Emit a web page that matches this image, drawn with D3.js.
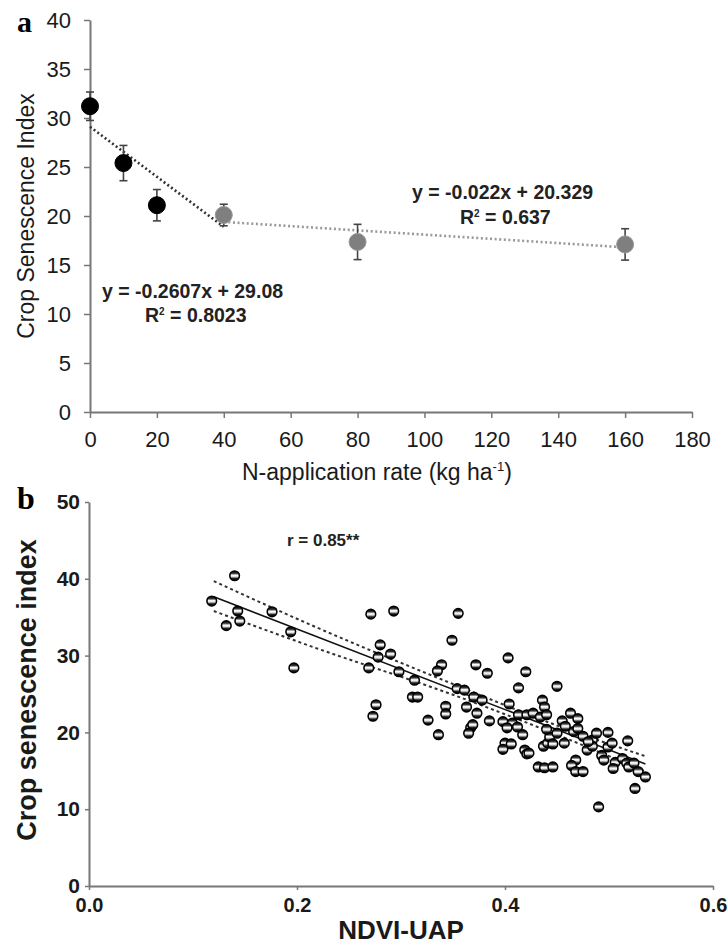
<!DOCTYPE html>
<html>
<head>
<meta charset="utf-8">
<script src="https://cdn.jsdelivr.net/npm/d3@7"></script>
<style>
  body { margin: 0; background: #fff; }
  svg { display: block; }
  text { font-family: "Liberation Sans", Arial, sans-serif; }
</style>
</head>
<body>
<div id="chart"></div>
<script>
// ---- panel a data ----
var nRate = [0, 10, 20, 40, 80, 160];
var csiMean = [31.2, 25.4, 21.1, 20.1, 17.35, 17.1];
var csiErr = [1.45, 1.8, 1.6, 1.1, 1.8, 1.6];
var markerGroup = ["low", "low", "low", "high", "high", "high"];
var trend1X = [0, 40], trend1Y = [29.1, 18.9];
var trend2X = [40, 160], trend2Y = [19.4, 16.8];
var xTicksA = [0, 20, 40, 60, 80, 100, 120, 140, 160, 180];
var yTicksA = [0, 5, 10, 15, 20, 25, 30, 35, 40];

// ---- panel b data ----
var ndviUap = [
  0.140, 0.118, 0.143, 0.145, 0.132, 0.176, 0.194, 0.197, 0.271, 0.293,
  0.355, 0.349, 0.280, 0.278, 0.290, 0.269, 0.298, 0.313, 0.339, 0.335,
  0.372, 0.383, 0.403, 0.420, 0.413, 0.450, 0.354, 0.361, 0.311, 0.316,
  0.276, 0.273, 0.343, 0.343, 0.363, 0.370, 0.378, 0.373, 0.385, 0.326,
  0.336, 0.367, 0.369, 0.365, 0.404, 0.413, 0.398, 0.407, 0.421, 0.427,
  0.436, 0.438, 0.434, 0.440, 0.402, 0.412, 0.417, 0.400, 0.398, 0.406,
  0.419, 0.421, 0.437, 0.441, 0.443, 0.446, 0.440, 0.450, 0.432, 0.438,
  0.446, 0.463, 0.466, 0.457, 0.468, 0.464, 0.468, 0.475, 0.479, 0.484,
  0.488, 0.499, 0.484, 0.493, 0.495, 0.499, 0.503, 0.506, 0.504, 0.513,
  0.517, 0.518, 0.519, 0.524, 0.528, 0.535, 0.525, 0.490, 0.455, 0.470,
  0.458, 0.470, 0.475, 0.480, 0.423
];
var csiB = [
  40.4, 37.1, 35.8, 34.5, 33.9, 35.7, 33.1, 28.4, 35.4, 35.8,
  35.5, 32.0, 31.4, 29.8, 30.2, 28.4, 27.9, 26.8, 28.8, 28.0,
  28.8, 27.7, 29.7, 27.9, 25.8, 26.0, 25.7, 25.5, 24.6, 24.6,
  23.6, 22.1, 23.4, 22.4, 23.3, 24.6, 24.2, 22.5, 21.5, 21.6,
  19.7, 20.6, 21.0, 19.9, 23.7, 22.3, 21.4, 21.2, 22.3, 22.5,
  24.2, 23.3, 22.0, 22.3, 20.6, 20.7, 19.7, 18.6, 17.8, 18.5,
  17.7, 17.2, 18.2, 18.6, 19.4, 18.5, 20.4, 19.9, 15.5, 15.4,
  15.5, 22.5, 20.1, 18.6, 16.4, 15.7, 14.9, 14.9, 17.7, 19.0,
  19.9, 20.0, 18.2, 17.0, 16.4, 18.1, 18.6, 16.1, 15.3, 16.6,
  16.0, 18.9, 15.5, 16.0, 14.9, 14.2, 12.7, 10.3, 21.5, 21.8,
  20.8, 20.5, 19.5, 18.8, 17.3
];
var fitX = [0.12, 0.535], fitY = [37.65, 15.9];
var bandX = [0.12, 0.22, 0.35, 0.45, 0.535];
var bandUpper = [39.7, 33.6, 26.3, 20.9, 16.9];
var bandLower = [35.8, 30.9, 24.9, 19.7, 14.9];
var xTicksB = [0, 0.2, 0.4, 0.6];
var yTicksB = [0, 10, 20, 30, 40, 50];

var svg = d3.select("#chart").append("svg")
    .attr("width", 728)
    .attr("height", 947);

svg.append("rect").attr("width", 728).attr("height", 947).attr("fill", "white");

var defs = svg.append("defs");
var grad = defs.append("linearGradient")
    .attr("id", "dotFill")
    .attr("x1", 0).attr("y1", 0).attr("x2", 0).attr("y2", 1);
grad.append("stop").attr("offset", "0%").attr("stop-color", "#000");
grad.append("stop").attr("offset", "25%").attr("stop-color", "#333");
grad.append("stop").attr("offset", "45%").attr("stop-color", "#fff");
grad.append("stop").attr("offset", "60%").attr("stop-color", "#ddd");
grad.append("stop").attr("offset", "78%").attr("stop-color", "#222");
grad.append("stop").attr("offset", "100%").attr("stop-color", "#000");

function styleAxis(g, size, weight) {
    g.select(".domain").attr("stroke", "#777").attr("stroke-width", 2);
    g.selectAll(".tick line").attr("stroke", "#777").attr("stroke-width", 1.5);
    g.selectAll(".tick text")
        .attr("fill", "#1a1a1a")
        .style("font-size", size + "px")
        .style("font-weight", weight)
        .style("font-family", "'Liberation Sans', Arial, sans-serif");
}

// ================= panel a =================
var xA = d3.scaleLinear().domain([0, 180]).range([90, 692]);
var yA = d3.scaleLinear().domain([0, 40]).range([412, 20]);

var gxA = svg.append("g")
    .attr("transform", "translate(0," + yA(0) + ")")
    .call(d3.axisBottom(xA).tickValues(xTicksA).tickSize(6).tickSizeOuter(0).tickPadding(13));
styleAxis(gxA, 22, "normal");

var gyA = svg.append("g")
    .attr("transform", "translate(" + xA(0) + ",0)")
    .call(d3.axisLeft(yA).tickValues(yTicksA).tickSize(6).tickSizeOuter(0).tickPadding(13));
styleAxis(gyA, 22, "normal");

var lineA = d3.line().x(function(d) { return xA(d[0]); }).y(function(d) { return yA(d[1]); });

svg.append("path")
    .datum(d3.zip(trend1X, trend1Y))
    .attr("d", lineA)
    .attr("fill", "none")
    .attr("stroke", "#333")
    .attr("stroke-width", 2.6)
    .attr("stroke-dasharray", "2,2.6");

svg.append("path")
    .datum(d3.zip(trend2X, trend2Y))
    .attr("d", lineA)
    .attr("fill", "none")
    .attr("stroke", "#999")
    .attr("stroke-width", 2.6)
    .attr("stroke-dasharray", "2,2.6");

var ptsA = nRate.map(function(n, i) {
    return { n: n, m: csiMean[i], e: csiErr[i], grp: markerGroup[i] };
});

var errG = svg.append("g").selectAll("g").data(ptsA).enter().append("g");
errG.append("line")
    .attr("x1", function(d) { return xA(d.n); })
    .attr("x2", function(d) { return xA(d.n); })
    .attr("y1", function(d) { return yA(d.m + d.e); })
    .attr("y2", function(d) { return yA(d.m - d.e); })
    .attr("stroke", "#444").attr("stroke-width", 1.6);
errG.append("line")
    .attr("x1", function(d) { return xA(d.n) - 4; })
    .attr("x2", function(d) { return xA(d.n) + 4; })
    .attr("y1", function(d) { return yA(d.m + d.e); })
    .attr("y2", function(d) { return yA(d.m + d.e); })
    .attr("stroke", "#444").attr("stroke-width", 1.6);
errG.append("line")
    .attr("x1", function(d) { return xA(d.n) - 4; })
    .attr("x2", function(d) { return xA(d.n) + 4; })
    .attr("y1", function(d) { return yA(d.m - d.e); })
    .attr("y2", function(d) { return yA(d.m - d.e); })
    .attr("stroke", "#444").attr("stroke-width", 1.6);

svg.append("g").selectAll("circle").data(ptsA).enter().append("circle")
    .attr("cx", function(d) { return xA(d.n); })
    .attr("cy", function(d) { return yA(d.m); })
    .attr("r", 8.5)
    .attr("fill", function(d) { return d.grp == "low" ? "#000" : "#7f7f7f"; })
    .attr("stroke", function(d) { return d.grp == "low" ? "#000" : "#999"; })
    .attr("stroke-width", 1);

// equations
var eqStyle = function(t) {
    t.style("font-size", "19.5px").style("font-weight", "bold").attr("fill", "#222");
};
svg.append("text").attr("x", 102).attr("y", 298).text("y = -0.2607x + 29.08").call(eqStyle);
var r1 = svg.append("text").attr("x", 145).attr("y", 322).call(eqStyle);
r1.append("tspan").text("R");
r1.append("tspan").attr("dy", -7).style("font-size", "10px").text("2");
r1.append("tspan").attr("dy", 7).text(" = 0.8023");

svg.append("text").attr("x", 412).attr("y", 199).text("y = -0.022x + 20.329").call(eqStyle);
var r2 = svg.append("text").attr("x", 460).attr("y", 224).call(eqStyle);
r2.append("tspan").text("R");
r2.append("tspan").attr("dy", -7).style("font-size", "10px").text("2");
r2.append("tspan").attr("dy", 7).text(" = 0.637");

// axis titles a
svg.append("text")
    .attr("transform", "translate(34,216) rotate(-90)")
    .attr("text-anchor", "middle")
    .style("font-size", "23px")
    .attr("fill", "#1a1a1a")
    .text("Crop Senescence Index");

var xtA = svg.append("text")
    .attr("x", 242).attr("y", 480)
    .style("font-size", "23px")
    .attr("fill", "#1a1a1a");
xtA.append("tspan").text("N-application rate (kg ha");
xtA.append("tspan").attr("dy", -9).style("font-size", "13px").text("-1");
xtA.append("tspan").attr("dy", 9).text(")");

svg.append("text")
    .attr("x", 17).attr("y", 32)
    .style("font-family", "'Liberation Serif', 'Times New Roman', serif")
    .style("font-weight", "bold")
    .style("font-size", "30px")
    .text("a");

// ================= panel b =================
var xB = d3.scaleLinear().domain([0, 0.6]).range([89, 713]);
var yB = d3.scaleLinear().domain([0, 50]).range([886, 502]);

var gxB = svg.append("g")
    .attr("transform", "translate(0," + yB(0) + ")")
    .call(d3.axisBottom(xB).tickValues(xTicksB).tickFormat(d3.format(".1f")).tickSize(4).tickSizeOuter(0).tickPadding(8));
styleAxis(gxB, 20, "bold");

var gyB = svg.append("g")
    .attr("transform", "translate(" + xB(0) + ",0)")
    .call(d3.axisLeft(yB).tickValues(yTicksB).tickSize(4).tickSizeOuter(0).tickPadding(5));
styleAxis(gyB, 21, "bold");

var lineB = d3.line().x(function(d) { return xB(d[0]); }).y(function(d) { return yB(d[1]); });
var bandLine = d3.line().curve(d3.curveMonotoneX)
    .x(function(d) { return xB(d[0]); }).y(function(d) { return yB(d[1]); });

[bandUpper, bandLower].forEach(function(b) {
    svg.append("path")
        .datum(d3.zip(bandX, b))
        .attr("d", bandLine)
        .attr("fill", "none")
        .attr("stroke", "#333")
        .attr("stroke-width", 2)
        .attr("stroke-dasharray", "3,3");
});

svg.append("path")
    .datum(d3.zip(fitX, fitY))
    .attr("d", lineB)
    .attr("fill", "none")
    .attr("stroke", "#111")
    .attr("stroke-width", 1.6);

svg.append("g").selectAll("circle").data(d3.zip(ndviUap, csiB)).enter().append("circle")
    .attr("cx", function(d) { return xB(d[0]); })
    .attr("cy", function(d) { return yB(d[1]); })
    .attr("r", 4.8)
    .attr("fill", "url(#dotFill)")
    .attr("stroke", "#000")
    .attr("stroke-width", 1.6);

svg.append("text")
    .attr("x", 287).attr("y", 546)
    .style("font-size", "17px")
    .style("font-weight", "bold")
    .attr("fill", "#222")
    .text("r = 0.85**");

svg.append("text")
    .attr("transform", "translate(36,690) rotate(-90)")
    .attr("text-anchor", "middle")
    .style("font-size", "27px")
    .style("font-weight", "bold")
    .attr("fill", "#1a1a1a")
    .text("Crop senescence index");

svg.append("text")
    .attr("x", 401).attr("y", 939)
    .attr("text-anchor", "middle")
    .style("font-size", "26px")
    .style("font-weight", "bold")
    .attr("fill", "#1a1a1a")
    .text("NDVI-UAP");

svg.append("text")
    .attr("x", 17).attr("y", 509)
    .style("font-family", "'Liberation Serif', 'Times New Roman', serif")
    .style("font-weight", "bold")
    .style("font-size", "32px")
    .text("b");
</script>
</body>
</html>
